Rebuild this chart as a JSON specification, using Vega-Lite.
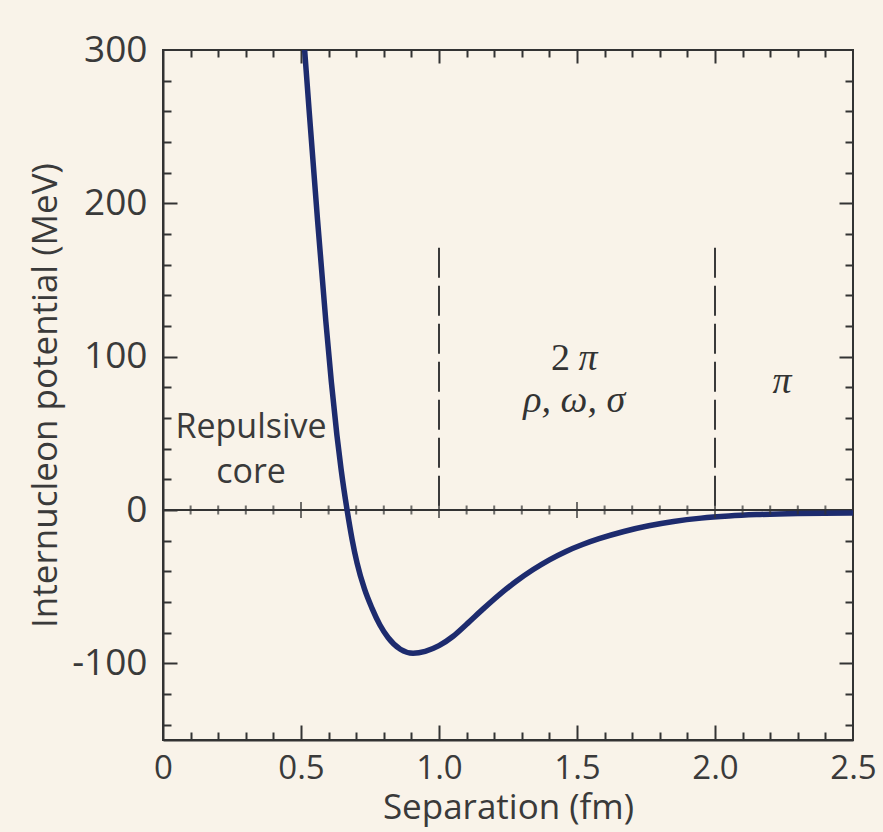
{
  "$schema": "https://vega.github.io/schema/vega-lite/v6.json",
  "width": 690,
  "height": 690,
  "autosize": {"type": "none"},
  "padding": {"left": 163, "top": 50, "right": 30, "bottom": 92},
  "background": "#f9f3e9",
  "config": {
    "view": {"stroke": "#333333", "strokeWidth": 2},
    "axis": {
      "grid": false,
      "domain": false,
      "labels": false,
      "ticks": true,
      "title": null,
      "tickColor": "#333333",
      "tickWidth": 2,
      "labelFont": "Open Sans",
      "labelFontSize": 35,
      "labelColor": "#3a3a3a",
      "titleFont": "Open Sans",
      "titleFontSize": 35,
      "titleFontWeight": "normal",
      "titleColor": "#3a3a3a",
      "labelFlush": false,
      "labelOverlap": false,
      "labelBound": false
    }
  },
  "datasets": {
    "curve": [
      {"x": 0.505, "y": 322}, {"x": 0.514, "y": 298}, {"x": 0.535, "y": 247.5},
      {"x": 0.56, "y": 189}, {"x": 0.59, "y": 123}, {"x": 0.61, "y": 83.5},
      {"x": 0.63, "y": 49}, {"x": 0.645, "y": 27}, {"x": 0.667, "y": 0},
      {"x": 0.685, "y": -19}, {"x": 0.703, "y": -34.5}, {"x": 0.73, "y": -51.5},
      {"x": 0.757, "y": -64}, {"x": 0.786, "y": -75}, {"x": 0.816, "y": -83.3},
      {"x": 0.86, "y": -90.8}, {"x": 0.906, "y": -93.4}, {"x": 0.95, "y": -92.2},
      {"x": 1.0, "y": -88.5}, {"x": 1.05, "y": -82.5}, {"x": 1.1, "y": -74.5},
      {"x": 1.16, "y": -64.5}, {"x": 1.22, "y": -55}, {"x": 1.28, "y": -46.5},
      {"x": 1.34, "y": -39}, {"x": 1.4, "y": -32.5}, {"x": 1.46, "y": -27},
      {"x": 1.52, "y": -22.5}, {"x": 1.58, "y": -18.7}, {"x": 1.67, "y": -14},
      {"x": 1.76, "y": -10.3}, {"x": 1.85, "y": -7.5}, {"x": 1.95, "y": -5.3},
      {"x": 2.05, "y": -3.9}, {"x": 2.15, "y": -3.0}, {"x": 2.3, "y": -2.3},
      {"x": 2.5, "y": -2}
    ],
    "zeroTicks": [
      {"x": 0.1, "kind": "minor"}, {"x": 0.2, "kind": "minor"}, {"x": 0.3, "kind": "minor"},
      {"x": 0.4, "kind": "minor"}, {"x": 0.5, "kind": "major"}, {"x": 0.6, "kind": "minor"},
      {"x": 0.7, "kind": "minor"}, {"x": 0.8, "kind": "minor"}, {"x": 0.9, "kind": "minor"},
      {"x": 1.0, "kind": "major"}, {"x": 1.1, "kind": "minor"}, {"x": 1.2, "kind": "minor"},
      {"x": 1.3, "kind": "minor"}, {"x": 1.4, "kind": "minor"}, {"x": 1.5, "kind": "major"},
      {"x": 1.6, "kind": "minor"}, {"x": 1.7, "kind": "minor"}, {"x": 1.8, "kind": "minor"},
      {"x": 1.9, "kind": "minor"}, {"x": 2.0, "kind": "major"}, {"x": 2.1, "kind": "minor"},
      {"x": 2.2, "kind": "minor"}, {"x": 2.3, "kind": "minor"}, {"x": 2.4, "kind": "minor"}
    ],
    "zeroLine": [{"y": 0}],
    "dashes": [
      {"x": 1.0, "top": 171, "bottom": 0},
      {"x": 2.0, "top": 171, "bottom": 0}
    ],
    "sansText": [
      {"x": 0.319, "y": 47, "label": "Repulsive"},
      {"x": 0.319, "y": 17.6, "label": "core"}
    ],
    "uprightText": [
      {"x": 1.44, "y": 91.3, "label": "2"}
    ],
    "italicText": [
      {"x": 1.54, "y": 91.3, "label": "π"},
      {"x": 1.49, "y": 64, "label": "ρ, ω, σ"},
      {"x": 2.243, "y": 76, "label": "π"}
    ]
  },
  "resolve": {
    "scale": {"x": "shared", "y": "shared"},
    "axis": {"x": "independent", "y": "independent"}
  },
  "layer": [
    {
      "data": {"name": "zeroLine"},
      "mark": {"type": "rule", "color": "#333333", "strokeWidth": 2},
      "encoding": {
        "y": {
          "field": "y", "type": "quantitative",
          "axis": {"orient": "left", "values": [-100, 0, 100, 200], "tickSize": 14, "offset": -14}
        }
      }
    },
    {
      "data": {"name": "curve"},
      "mark": {"type": "line", "interpolate": "monotone", "color": "#1d2b6e", "strokeWidth": 5.5, "clip": true},
      "encoding": {
        "x": {
          "field": "x", "type": "quantitative",
          "scale": {"domain": [0, 2.5], "nice": false, "zero": false},
          "axis": {
            "orient": "bottom", "values": [0, 0.5, 1, 1.5, 2, 2.5],
            "ticks": false, "labels": true, "domain": true, "domainColor": "#333333", "domainWidth": 2,
            "labelPadding": 12, "labelFontSize": 33,
            "labelExpr": "datum.value == 0 ? '0' : format(datum.value, '.1f')",
            "title": "Separation (fm)", "titlePadding": 5
          }
        },
        "y": {
          "field": "y", "type": "quantitative",
          "scale": {"domain": [-150, 300], "nice": false, "zero": false},
          "axis": {
            "orient": "left", "values": [-100, 0, 100, 200, 300],
            "ticks": false, "labels": true, "domain": true, "domainColor": "#333333", "domainWidth": 2,
            "labelPadding": 16, "labelFontSize": 37,
            "labelExpr": "datum.value < 0 ? '-' + format(-datum.value, 'd') : format(datum.value, 'd')",
            "title": "Internucleon potential (MeV)", "titlePadding": 8
          }
        }
      }
    },
    {
      "data": {"name": "zeroTicks"},
      "mark": {"type": "tick", "orient": "vertical", "color": "#333333", "thickness": 2},
      "encoding": {
        "x": {
          "field": "x", "type": "quantitative",
          "axis": {"orient": "bottom", "values": [0.5, 1, 1.5, 2], "tickSize": 15, "offset": -15}
        },
        "y": {
          "datum": 0, "type": "quantitative",
          "axis": {"orient": "left", "values": [-140, -120, -80, -60, -40, -20, 20, 40, 60, 80, 120, 140, 160, 180, 220, 240, 260, 280], "tickSize": 8, "offset": -8}
        },
        "size": {
          "field": "kind", "type": "nominal",
          "scale": {"domain": ["major", "minor"], "range": [16, 9]},
          "legend": null
        }
      }
    },
    {
      "data": {"name": "dashes"},
      "mark": {"type": "rule", "color": "#3a3a3a", "strokeWidth": 2, "strokeDash": [30, 8]},
      "encoding": {
        "x": {
          "field": "x", "type": "quantitative",
          "axis": {"orient": "bottom", "values": [0.1, 0.2, 0.3, 0.4, 0.6, 0.7, 0.8, 0.9, 1.1, 1.2, 1.3, 1.4, 1.6, 1.7, 1.8, 1.9, 2.1, 2.2, 2.3, 2.4], "tickSize": 8, "offset": -8}
        },
        "y": {
          "field": "top", "type": "quantitative",
          "axis": {"orient": "right", "values": [-100, 0, 100, 200], "tickSize": 14, "offset": -14}
        },
        "y2": {"field": "bottom"}
      }
    },
    {
      "data": {"name": "sansText"},
      "mark": {"type": "text", "font": "Open Sans", "fontSize": 34, "color": "#3a3a3a", "align": "center", "baseline": "alphabetic"},
      "encoding": {
        "x": {
          "field": "x", "type": "quantitative",
          "axis": {"orient": "top", "values": [0.5, 1, 1.5, 2], "tickSize": 13, "offset": -13}
        },
        "y": {
          "field": "y", "type": "quantitative",
          "axis": {"orient": "right", "values": [-140, -120, -80, -60, -40, -20, 20, 40, 60, 80, 120, 140, 160, 180, 220, 240, 260, 280], "tickSize": 8, "offset": -8}
        },
        "text": {"field": "label"}
      }
    },
    {
      "data": {"name": "uprightText"},
      "mark": {"type": "text", "font": "Liberation Serif", "fontSize": 38, "color": "#333333", "align": "center", "baseline": "alphabetic"},
      "encoding": {
        "x": {
          "field": "x", "type": "quantitative",
          "axis": {"orient": "top", "values": [0.1, 0.2, 0.3, 0.4, 0.6, 0.7, 0.8, 0.9, 1.1, 1.2, 1.3, 1.4, 1.6, 1.7, 1.8, 1.9, 2.1, 2.2, 2.3, 2.4], "tickSize": 7, "offset": -7}
        },
        "y": {"field": "y", "type": "quantitative", "axis": null},
        "text": {"field": "label"}
      }
    },
    {
      "data": {"name": "italicText"},
      "mark": {"type": "text", "font": "Liberation Serif", "fontStyle": "italic", "fontSize": 38, "color": "#333333", "align": "center", "baseline": "alphabetic"},
      "encoding": {
        "x": {"field": "x", "type": "quantitative", "axis": null},
        "y": {"field": "y", "type": "quantitative", "axis": null},
        "text": {"field": "label"}
      }
    }
  ]
}
